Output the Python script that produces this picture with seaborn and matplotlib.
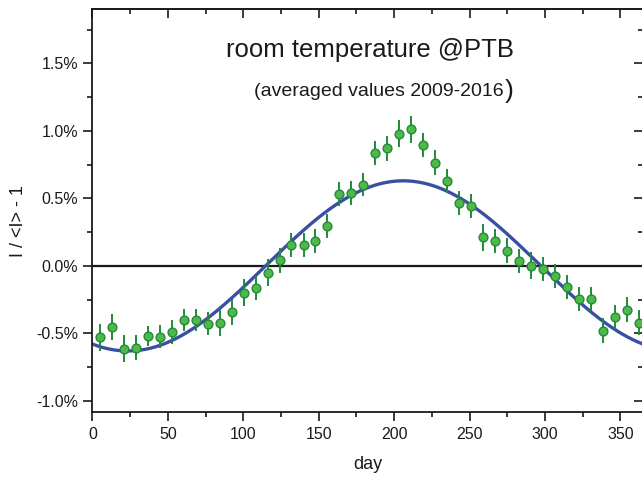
import numpy as np
import pandas as pd
import matplotlib
matplotlib.use("Agg")
import matplotlib.pyplot as plt
import seaborn as sns
from matplotlib.ticker import MultipleLocator, FuncFormatter

# ---- data ----
days = [5.0, 12.9, 20.8, 28.8, 36.7, 44.6, 52.6, 60.5, 68.4, 76.4,
        84.3, 92.2, 100.2, 108.1, 116.1, 124.0, 131.9, 139.9, 147.8, 155.7,
        163.7, 171.6, 179.5, 187.5, 195.4, 203.3, 211.3, 219.2, 227.1, 235.1,
        243.0, 250.9, 258.9, 266.8, 274.8, 282.7, 290.6, 298.6, 306.5, 314.4,
        322.4, 330.3, 338.2, 346.2, 354.1, 362.0]
values = [-0.53, -0.45, -0.615, -0.605, -0.52, -0.525, -0.49, -0.40, -0.40, -0.43,
          -0.42, -0.343, -0.20, -0.163, -0.05, 0.04, 0.155, 0.153, 0.185, 0.294,
          0.53, 0.54, 0.60, 0.835, 0.87, 0.978, 1.013, 0.896, 0.765, 0.627,
          0.467, 0.444, 0.212, 0.185, 0.113, 0.037, 0.0, -0.022, -0.074, -0.156,
          -0.247, -0.244, -0.479, -0.378, -0.324, -0.42]
errors = [0.10, 0.095, 0.10, 0.09, 0.075, 0.084, 0.09, 0.08, 0.08, 0.085,
          0.10, 0.095, 0.10, 0.09, 0.10, 0.09, 0.09, 0.09, 0.09, 0.09,
          0.09, 0.09, 0.085, 0.09, 0.09, 0.10, 0.10, 0.09, 0.09, 0.09,
          0.09, 0.09, 0.10, 0.09, 0.09, 0.09, 0.10, 0.09, 0.09, 0.09,
          0.09, 0.09, 0.09, 0.09, 0.09, 0.09]

# fitted annual cosine (parameters)
fit_amplitude = 0.63
fit_peak_day = 206.0
fit_offset = 0.0
period = 365.0

x_ticks_major = [0, 50, 100, 150, 200, 250, 300, 350]
y_ticks_major = [-1.0, -0.5, 0.0, 0.5, 1.0, 1.5]

title = "room temperature @PTB"
subtitle = "(averaged values 2009-2016"
xlabel = "day"
ylabel = "I / <I> - 1"

# ---- build data frames ----
pts = pd.DataFrame({"day": days, "value": values, "err": errors})
grid = np.linspace(0, 365, 731)
fit = pd.DataFrame({"day": grid,
                    "value": fit_offset + fit_amplitude * np.cos(2 * np.pi * (grid - fit_peak_day) / period)})

sns.set_theme(style="white")
plt.rcParams["font.family"] = ["Liberation Sans", "DejaVu Sans"]

W, H = 642, 479
fig = plt.figure(figsize=(W / 100, H / 100), dpi=100)
ax_left, ax_right, ax_top, ax_bottom = 92.5, 643.1, 9.0, 412.3
ax = fig.add_axes([ax_left / W, 1 - ax_bottom / H, (ax_right - ax_left) / W, (ax_bottom - ax_top) / H])

line_blue = "#3a4fa3"
green_fill = "#4fb84a"
green_edge = "#238a3a"
err_green = "#1f8a3c"

ax.axhline(0, color="#1a1a1a", lw=1.6, zorder=1)
sns.lineplot(data=fit, x="day", y="value", ax=ax, color=line_blue, lw=2.4, zorder=2)
ax.errorbar(pts["day"], pts["value"], yerr=pts["err"], fmt="none",
            ecolor=err_green, elinewidth=1.4, capsize=0, zorder=3)
sns.scatterplot(data=pts, x="day", y="value", ax=ax, color=green_fill,
                edgecolor=green_edge, linewidth=1.0, s=40, zorder=4)

ax.set_xlim(0, 365)
ax.set_ylim(-1.084, 1.902)
ax.set_xticks(x_ticks_major)
ax.xaxis.set_minor_locator(MultipleLocator(25))
ax.set_yticks(y_ticks_major)
ax.yaxis.set_minor_locator(MultipleLocator(0.25))
ax.yaxis.set_major_formatter(FuncFormatter(lambda v, p: f"{v:.1f}%"))

for s in ax.spines.values():
    s.set_color("#1a1a1a")
    s.set_linewidth(1.3)

ax.tick_params(axis="both", which="both", color="#1a1a1a", width=1.2,
               labelsize=11.5, labelcolor="#1a1a1a")
ax.tick_params(axis="both", which="major", length=6.5, direction="out",
               bottom=True, left=True, top=False, right=False, pad=4)
ax.tick_params(axis="both", which="minor", length=3.8, direction="out",
               bottom=True, left=True, top=False, right=False)
# inward ticks on top / right via secondary axes
tx = ax.secondary_xaxis("top")
tx.set_xticks(x_ticks_major)
tx.xaxis.set_minor_locator(MultipleLocator(25))
tx.tick_params(which="major", direction="in", length=6.5, width=1.2, color="#1a1a1a", labeltop=False)
tx.tick_params(which="minor", direction="in", length=3.8, width=1.2, color="#1a1a1a")
tx.spines["top"].set_linewidth(1.3)
ty = ax.secondary_yaxis("right")
ty.set_yticks(y_ticks_major)
ty.yaxis.set_minor_locator(MultipleLocator(0.25))
ty.tick_params(which="major", direction="in", length=6.5, width=1.2, color="#1a1a1a", labelright=False)
ty.tick_params(which="minor", direction="in", length=3.8, width=1.2, color="#1a1a1a")

ax.set_xlabel(xlabel, fontsize=13, color="#1a1a1a")
ax.set_ylabel(ylabel, fontsize=13, color="#1a1a1a")
ax.xaxis.set_label_coords((368 - ax_left) / (ax_right - ax_left), (ax_bottom - 456) / (ax_bottom - ax_top))
ax.yaxis.set_label_coords((27 - ax_left) / (ax_right - ax_left), (ax_bottom - 221) / (ax_bottom - ax_top))

fig.text(370 / W, 1 - 50 / H, title, fontsize=18.5, color="#1a1a1a", ha="center", va="center")
fig.text(504 / W, 1 - 91 / H, subtitle, fontsize=14, color="#1a1a1a", ha="right", va="center")
fig.text(505 / W, 1 - 91 / H, ")", fontsize=19, color="#1a1a1a", ha="left", va="center")

fig.savefig("out.png", dpi=100)
